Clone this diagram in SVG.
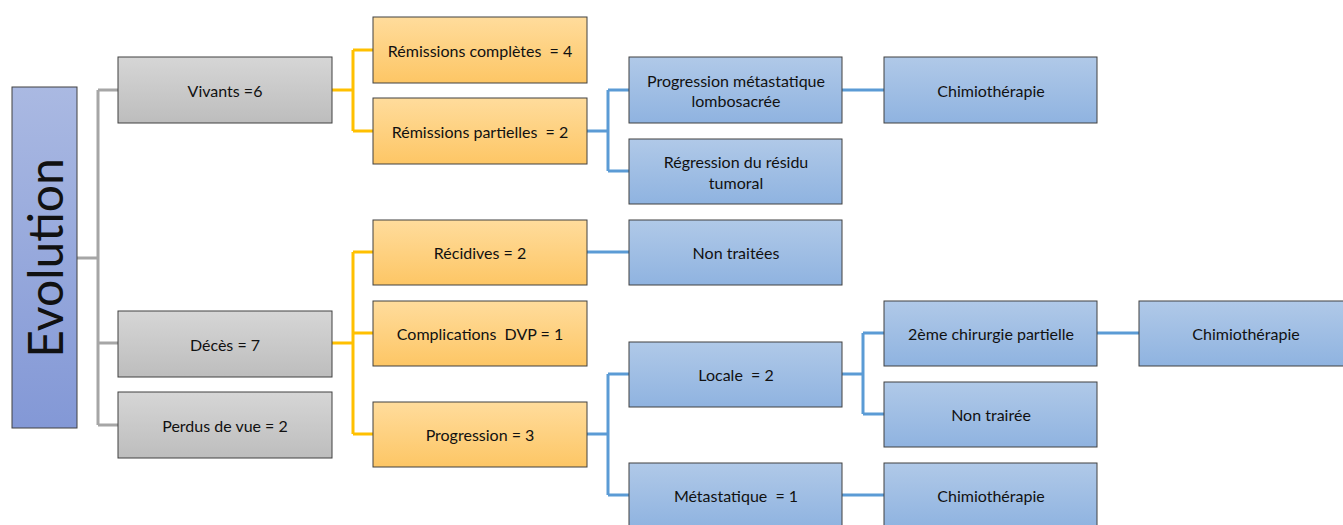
<svg xmlns="http://www.w3.org/2000/svg" width="1343" height="525" viewBox="0 0 1343 525">
<defs>
<linearGradient id="gGray" x1="0" y1="0" x2="0" y2="1"><stop offset="0" stop-color="#d6d6d6"/><stop offset="1" stop-color="#bdbdbd"/></linearGradient>
<linearGradient id="gOr" x1="0" y1="0" x2="0" y2="1"><stop offset="0" stop-color="#ffdc9c"/><stop offset="1" stop-color="#fdc665"/></linearGradient>
<linearGradient id="gBl" x1="0" y1="0" x2="0" y2="1"><stop offset="0" stop-color="#b0c9e8"/><stop offset="1" stop-color="#8fb3e0"/></linearGradient>
<linearGradient id="gEv" x1="0" y1="0" x2="0" y2="1"><stop offset="0" stop-color="#aab9e2"/><stop offset="1" stop-color="#8398d6"/></linearGradient>
</defs>
<style>
rect{stroke:#404040;stroke-width:1}
.gr{fill:url(#gGray)}
.or{fill:url(#gOr)}
.bl{fill:url(#gBl)}
text{font-family:Lato,"Liberation Sans",sans-serif;font-size:16px;fill:#111;text-anchor:middle;dominant-baseline:central}
.c{fill:none;stroke-width:3}
.cg{stroke:#a6a6a6}
.co{stroke:#ffc000}
.cb{stroke:#5b9bd5}
</style>
<rect width="1343" height="525" fill="#fff" style="stroke:none"/>
<g id="connectors">
<path class="c cg" d="M77 258H98M98 90V425M98 90H118M98 343H118M98 425H118"/>
<path class="c co" d="M332 90H353M353 50V131M353 50H373M353 131H373"/>
<path class="c co" d="M332 343H353M353 252V434M353 252H373M353 333H373M353 434H373"/>
<path class="c cb" d="M587 131H608M608 90V171M608 90H629M608 171H629"/>
<path class="c cb" d="M587 252H629"/>
<path class="c cb" d="M587 434H608M608 374V495M608 374H629M608 495H629"/>
<path class="c cb" d="M842 90H884"/>
<path class="c cb" d="M842 374H863M863 333V414M863 333H884M863 414H884"/>
<path class="c cb" d="M842 495H884"/>
<path class="c cb" d="M1097 333H1139"/>
</g>
<g id="evolution"><rect x="12" y="87" width="65" height="341" fill="url(#gEv)"/><text transform="translate(44 258) rotate(-90)" style="font-size:48px">Evolution</text></g>
<g id="vivants"><rect class="gr" x="118" y="57" width="214" height="66"/><text x="225" y="90">Vivants =6</text></g>
<g id="deces"><rect class="gr" x="118" y="311" width="214" height="66"/><text x="225" y="344">Décès = 7</text></g>
<g id="perdus"><rect class="gr" x="118" y="392" width="214" height="66"/><text x="225" y="425">Perdus de vue = 2</text></g>
<g id="remcomp"><rect class="or" x="373" y="17" width="214" height="66"/><text x="480" y="50" xml:space="preserve">Rémissions complètes  = 4</text></g>
<g id="rempart"><rect class="or" x="373" y="98" width="214" height="66"/><text x="480" y="131" xml:space="preserve">Rémissions partielles  = 2</text></g>
<g id="recidives"><rect class="or" x="373" y="220" width="214" height="65"/><text x="480" y="252">Récidives = 2</text></g>
<g id="complications"><rect class="or" x="373" y="301" width="214" height="65"/><text x="480" y="333" xml:space="preserve">Complications  DVP = 1</text></g>
<g id="progression"><rect class="or" x="373" y="402" width="214" height="65"/><text x="480" y="434">Progression = 3</text></g>
<g id="progmeta"><rect class="bl" x="629" y="57" width="213" height="66"/><text x="736" y="80">Progression métastatique</text><text x="736" y="100">lombosacrée</text></g>
<g id="regression"><rect class="bl" x="629" y="139" width="213" height="65"/><text x="736" y="161">Régression du résidu</text><text x="736" y="182">tumoral</text></g>
<g id="nontraitees"><rect class="bl" x="629" y="220" width="213" height="65"/><text x="736" y="252">Non traitées</text></g>
<g id="locale"><rect class="bl" x="629" y="342" width="213" height="65"/><text x="736" y="374" xml:space="preserve">Locale  = 2</text></g>
<g id="metastatique"><rect class="bl" x="629" y="463" width="213" height="65"/><text x="736" y="495" xml:space="preserve">Métastatique  = 1</text></g>
<g id="chimio1"><rect class="bl" x="884" y="57" width="213" height="66"/><text x="991" y="90">Chimiothérapie</text></g>
<g id="chirurgie"><rect class="bl" x="884" y="301" width="213" height="65"/><text x="991" y="333">2ème chirurgie partielle</text></g>
<g id="nontrairee"><rect class="bl" x="884" y="382" width="213" height="65"/><text x="991" y="414">Non trairée</text></g>
<g id="chimio2"><rect class="bl" x="884" y="463" width="213" height="65"/><text x="991" y="495">Chimiothérapie</text></g>
<g id="chimio3"><rect class="bl" x="1139" y="301" width="214" height="65"/><text x="1246" y="333">Chimiothérapie</text></g>
</svg>
